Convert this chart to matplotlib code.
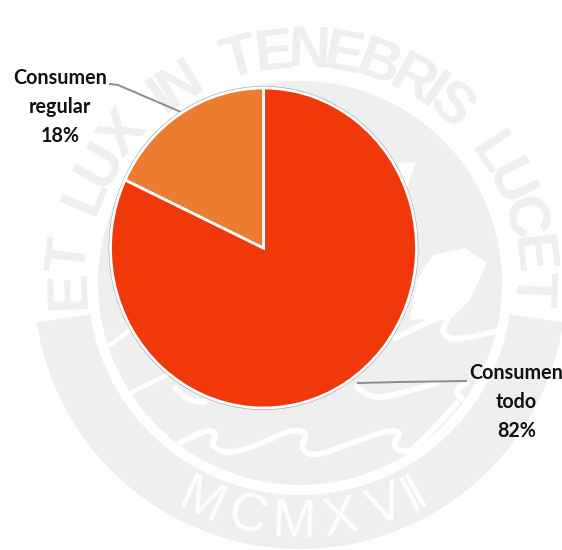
import numpy as np
import matplotlib
matplotlib.use("Agg")
import matplotlib.pyplot as plt
from matplotlib.patches import Wedge, Circle, Polygon, PathPatch
from matplotlib.path import Path
from matplotlib.textpath import TextPath
from matplotlib.font_manager import FontProperties

# pie data
labels = ["Consumen\ntodo\n82%", "Consumen\nregular\n18%"]
values = [82, 18]
colors = ["#F0380A", "#EC7C30"]

# seal in the background, everything in pixels of the reference
seal_top_text = "ET LUX IN TENEBRIS LUCET"
seal_bottom_text = "MCMXVII"
seal_color = "#EFEFEF"
wave_1 = [(180, 443), (203, 430), (218, 432), (210, 445), (227, 455), (263, 443), (285, 432), (300, 430),
          (307, 435), (300, 448), (313, 457), (347, 445), (387, 430), (402, 432), (392, 445), (403, 453),
          (417, 448), (457, 403)]
wave_2 = [(357, 387), (370, 400), (403, 393), (437, 383)]
wave_3 = [(467, 383), (450, 390), (463, 400)]
wave_4 = [(395, 338), (437, 317), (450, 316), (440, 333), (457, 342), (500, 330)]
wave_5 = [(175, 388), (187, 403), (205, 402)]
line_1 = [(110, 345), (130, 330)]
line_2 = [(132, 392), (167, 375)]
book_1 = [(398, 163), (416, 162), (406, 190)]
book_2 = [(417, 280), (433, 255), (465, 248), (487, 263), (470, 300), (452, 318), (410, 320)]

H = 550
sx, sy = 300, H - 283
# the pie in the reference is a bit taller than wide
cx, cy, rx, ry = 263.5, H - 248, 153, 160


def put_letters(ax, text, a0, a1, r, fp, color, sign):
    # lay the letters along an arc, a0 to a1 in degrees
    w = [TextPath((0, 0), "n" if c == " " else c, prop=fp).get_extents().width * 1.25 for c in text]
    w = np.array(w)
    pos = (np.cumsum(w) - w / 2) / w.sum()
    for c, p in zip(text, pos):
        a = a0 + (a1 - a0) * p
        x = sx + r * np.cos(np.radians(a))
        y = sy + r * np.sin(np.radians(a))
        ax.text(x, y, c, color=color, fontproperties=fp, rotation=a + sign * 90,
                ha="center", va="baseline", rotation_mode="anchor", zorder=2)


def smooth_line(ax, pts, lw=4.2):
    # quadratic curve through the midpoints, the points act as controls
    pts = [(x, H - y) for x, y in pts]
    verts = [pts[0]]
    codes = [Path.MOVETO]
    for i in range(1, len(pts) - 1):
        mid = ((pts[i][0] + pts[i + 1][0]) / 2, (pts[i][1] + pts[i + 1][1]) / 2)
        end = pts[-1] if i == len(pts) - 2 else mid
        verts += [pts[i], end]
        codes += [Path.CURVE3, Path.CURVE3]
    if len(pts) == 2:
        verts.append(pts[1])
        codes.append(Path.LINETO)
    ax.add_patch(PathPatch(Path(verts, codes), fc="none", ec="white", lw=lw, capstyle="round", zorder=3))


fig = plt.figure(figsize=(5.62, 5.5), dpi=100)
ax = fig.add_axes([0, 0, 1, 1], zorder=1)

# background seal
ax.add_patch(Circle((sx, sy), 202, fc=seal_color, ec="none", zorder=1))
ax.add_patch(Wedge((sx, sy), 266, 188.5, 351.5, width=54, fc=seal_color, ec="none", zorder=1))
fp_top = FontProperties(family=["Liberation Sans Narrow", "Liberation Sans"], size=42, weight="bold")
fp_bottom = FontProperties(family=["Liberation Sans Narrow", "Liberation Sans"], size=38)
put_letters(ax, seal_top_text, 186, -6, 216, fp_top, seal_color, -1)
put_letters(ax, seal_bottom_text, 240, 300, 254, fp_bottom, "white", 1)
for wave in [wave_1, wave_2, wave_3, wave_4, wave_5]:
    smooth_line(ax, wave)
for line in [line_1, line_2]:
    smooth_line(ax, line, lw=3.2)
for book in [book_1, book_2]:
    ax.add_patch(Polygon([(x, H - y) for x, y in book], fc="white", ec="none", zorder=2.5))

# leader lines and labels
ax.plot([358, 400, 466], [H - 383, H - 382, H - 381], color="#8C8C8C", lw=1.4, zorder=6)
ax.plot([110, 118, 181], [H - 84, H - 85, H - 112], color="#8C8C8C", lw=1.4, zorder=6)
ax.text(516.5, H - 402, labels[0], ha="center", va="center", fontsize=14.2, fontweight="bold",
        family="Lato", color="#111111", linespacing=1.56, zorder=7)
ax.text(60, H - 107, labels[1], ha="center", va="center", fontsize=14.2, fontweight="bold",
        family="Lato", color="#111111", linespacing=1.56, zorder=7)

ax.set_xlim(0, 562)
ax.set_ylim(0, H)
ax.axis("off")

# pie in its own axes so it can be stretched
m = 1.05
pie_ax = fig.add_axes([(cx - rx * m) / 562, (cy - ry * m) / H, 2 * rx * m / 562, 2 * ry * m / H], zorder=2)
wedges, _ = pie_ax.pie(values, colors=colors, startangle=90, counterclock=False, radius=1,
                       wedgeprops={"edgecolor": "white", "linewidth": 2})
pie_ax.add_patch(Circle((0, 0), 1.008, fc="white", ec="#9A9A9A", lw=0.9, zorder=0))
pie_ax.set_aspect("auto")
pie_ax.set_xlim(-m, m)
pie_ax.set_ylim(-m, m)
pie_ax.axis("off")

fig.savefig("out.png", dpi=100, facecolor="white")
